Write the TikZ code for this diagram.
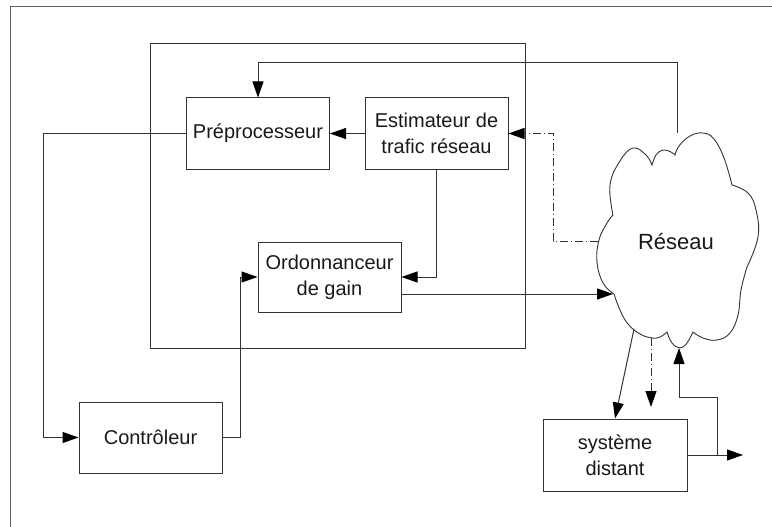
\documentclass[tikz,border=0pt]{standalone}
\usepackage{fontspec}
\setmainfont{Liberation Sans}
\usetikzlibrary{arrows.meta,calc}
\begin{document}
\begin{tikzpicture}[x=1pt,y=-1pt,
  ln/.style={draw=black!80,line width=1pt},
  blk/.style={ln,rectangle,minimum width=143pt,minimum height=71pt,inner sep=2pt,align=center,font=\fontsize{20}{26}\selectfont,text=black!90},
  arr/.style={ln,-{Triangle[length=16pt,width=11pt,black]}},
  dd/.style={dash pattern=on 8pt off 3pt on 1pt off 3pt}]
\useasboundingbox (0,0) rectangle (772,527);
\draw[draw=black!62,line width=1.6pt] (10.5,527) -- (10.5,6.5) -- (772,6.5);
\draw[ln] (150,44) rectangle (525,348);
% boxes
\node[blk] (pre) at (258,133.5) {Préprocesseur};
\node[blk] (est) at (436.5,133.5) {Estimateur de\\trafic réseau};
\node[blk,minimum height=70pt] (ord) at (329.5,277) {Ordonnanceur\\de gain};
\node[blk] (ctl) at (150.5,437.5) {Contrôleur};
\node[blk,minimum width=144pt,minimum height=72pt] (sys) at (615,455) {système\\distant};
% cloud
\draw[ln,line width=0.9pt]
  (613,215) plot[smooth,tension=0.7] coordinates {(613,215) (610,185) (620,161) (633,148) (646,155) (652,165)}
  -- plot[smooth,tension=0.7] coordinates {(652,165) (656,155) (663,150) (671,152) (675,155)}
  -- plot[smooth,tension=0.7] coordinates {(675,155) (679,146) (690,136) (703,133) (714,139) (724,158) (732,185)}
  -- plot[smooth,tension=0.7] coordinates {(732,185) (748,193) (756,210) (758,237) (747,267)}
  -- plot[smooth,tension=0.7] coordinates {(747,267) (741,290) (738,315) (730,333) (717,340) (703,338) (693,332)}
  -- plot[smooth,tension=0.7] coordinates {(693,332) (687,343) (680,348) (672,343) (667,332)}
  -- plot[smooth,tension=0.7] coordinates {(667,332) (660,337) (652,338) (640,334) (628,324) (620,310) (614,294)}
  -- plot[smooth,tension=0.7] coordinates {(614,294) (603,283) (597,262) (599,240) (607,223) (613,215)};
\node[font=\fontsize{22}{26}\selectfont,text=black!90] (res) at (676,242) {Réseau};
% coordinates for connector ends
\coordinate (ctop) at (677,133);
\coordinate (ttop) at (677,63);
\coordinate (cleft) at (598,241);
\coordinate (dcor) at (553,241);
\coordinate (cin) at (613,294);
\coordinate (lcor) at (43,133.5);
\coordinate (rcor) at (240,437.5);
\coordinate (cb1) at (634,329);
\coordinate (cb2) at (651,338);
\coordinate (cb2e) at (651,407);
\coordinate (out) at (743,455);
\coordinate (fb1) at (717,455);
\coordinate (fb2) at (717,397);
\coordinate (cb3) at (679,348);
% connectors
\draw[arr] (ctop) -- (ttop) -| (pre.north);
\draw[arr] (est.west) -- (pre.east);
\draw[arr,dd] (cleft) -- (dcor) |- (est.east);
\draw[arr] (est.south) |- (ord.east);
\draw[arr] (ord.east |- cin) -- (cin);
\draw[arr] (pre.west) -- (lcor) |- (ctl.west);
\draw[arr] (ctl.east) -- (rcor) |- (ord.west);
\draw[arr] (cb1) -- (sys.north);
\draw[arr,dd] (cb2) -- (cb2e);
\draw[arr] (sys.east) -- (out);
\draw[arr] (fb1) -- (fb2) -| (cb3);
\end{tikzpicture}
\end{document}
